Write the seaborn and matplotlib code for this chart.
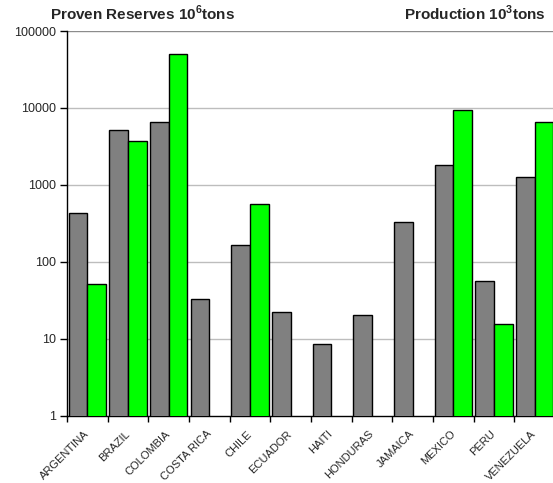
import matplotlib
matplotlib.use("Agg")
import matplotlib.pyplot as plt
import seaborn as sns
import pandas as pd
import numpy as np

countries = ["ARGENTINA", "BRAZIL", "COLOMBIA", "COSTA RICA", "CHILE", "ECUADOR",
             "HAITI", "HONDURAS", "JAMAICA", "MEXICO", "PERU", "VENEZUELA"]
# proven reserves, 10^6 tons
reserves = [425, 5240, 6580, 32.5, 166, 22, 8.5, 20.5, 331, 1840, 57, 1285]
# production, 10^3 tons (None = no production shown)
production = [52, 3730, 51000, None, 573, None, None, None, None, 9530, 15.4, 6660]

sns.set_style("white")
plt.rcParams["font.family"] = ["Liberation Sans", "DejaVu Sans"]
plt.rcParams["mathtext.fontset"] = "custom"
plt.rcParams["mathtext.rm"] = "Liberation Sans"
plt.rcParams["mathtext.bf"] = "Liberation Sans:bold"

rows = []
for c, r, p in zip(countries, reserves, production):
    rows.append({"Country": c, "Series": "Reserves", "Value": r})
    rows.append({"Country": c, "Series": "Production", "Value": np.nan if p is None else p})
df = pd.DataFrame(rows)

fig = plt.figure(figsize=(5.53, 4.83), dpi=100)
ax = fig.add_axes([0.1212, 0.1393, 0.8825, 0.7965])
ax.set_yscale("log")

sns.barplot(data=df, x="Country", y="Value", hue="Series", order=countries,
            hue_order=["Reserves", "Production"],
            palette={"Reserves": "#808080", "Production": "#00ff00"},
            width=0.92, edgecolor="black", linewidth=1.0, saturation=1,
            errorbar=None, legend=False, ax=ax, zorder=3)

ax.set_ylim(1, 100000)
ax.set_xlim(-0.5, len(countries) - 0.5)
yt = [1, 10, 100, 1000, 10000, 100000]
ax.yaxis.set_major_locator(matplotlib.ticker.FixedLocator(yt))
ax.yaxis.set_minor_locator(matplotlib.ticker.NullLocator())
ax.set_yticklabels([str(v) for v in yt], fontsize=9)
for v in yt[1:-1]:
    ax.axhline(v, color="#bdbdbd", lw=1.0, zorder=1)
ax.axhline(100000, color="#8c8c8c", lw=1.0, zorder=1)

# labels at centers, tick marks at category boundaries
ax.set_xticks(range(len(countries)))
ax.set_xticklabels(countries, rotation=45, ha="right", va="center",
                   rotation_mode="anchor", fontsize=8)
ax.tick_params(axis="x", which="major", length=0, pad=12)
ax.set_xticks(np.arange(len(countries)) - 0.5, minor=True)
ax.tick_params(axis="x", which="minor", length=4, width=1, color="black", direction="out", bottom=True)
ax.tick_params(axis="y", which="major", length=5, width=1, color="black", direction="out", left=True, pad=3)

ax.set_xlabel("")
ax.set_ylabel("")
for s in ["top", "right"]:
    ax.spines[s].set_visible(False)
for s in ["left", "bottom"]:
    ax.spines[s].set_color("black")
    ax.spines[s].set_linewidth(1.0)

fig.text(50 / 553, 1 - 20 / 483, r"Proven Reserves 10$^{\mathbf{6}}$tons",
         fontsize=11, fontweight="bold", ha="left", va="baseline")
fig.text(546 / 553, 1 - 20 / 483, r"Production 10$^{\mathbf{3}}$tons",
         fontsize=11, fontweight="bold", ha="right", va="baseline")

fig.savefig("out.png", dpi=100)
